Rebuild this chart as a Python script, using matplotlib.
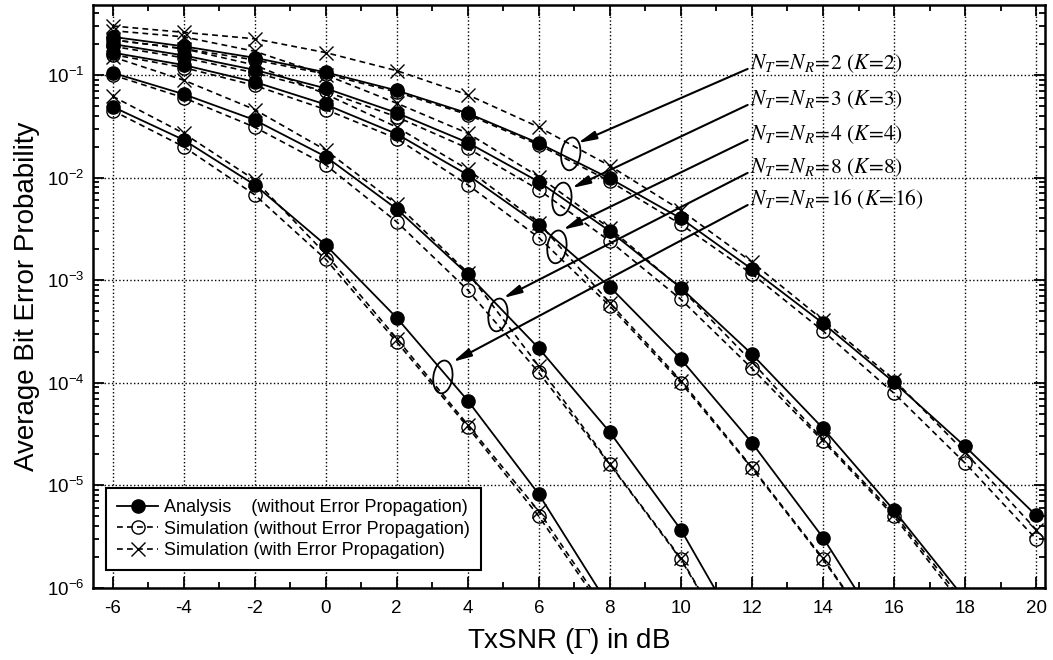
import numpy as np
import matplotlib
matplotlib.use('Agg')
from matplotlib import pyplot as plt
from matplotlib import transforms
from matplotlib.patches import Ellipse
from matplotlib.ticker import MultipleLocator, LogLocator, NullFormatter

plt.rcParams['font.family'] = ['Liberation Sans', 'DejaVu Sans']
plt.rcParams['mathtext.fontset'] = 'stix'
plt.rcParams['axes.unicode_minus'] = False

# TxSNR in dB
snr = [-6, -4, -2, 0, 2, 4, 6, 8, 10, 12, 14, 16, 18, 20]
ks = [2, 3, 4, 8, 16]

# analysis (without error propagation)
ana_k2 = [0.235, 0.19, 0.147, 0.106, 0.0706, 0.0423, 0.0216, 0.0098, 0.0040, 0.00128, 3.8e-4, 1.01e-4, 2.4e-5, 5.1e-6]
ana_k3 = [0.20, 0.155, 0.112, 0.074, 0.0427, 0.0219, 0.0091, 0.0030, 8.4e-4, 1.9e-4, 3.6e-5, 5.7e-6, 7.8e-7]
ana_k4 = [0.165, 0.125, 0.0855, 0.0515, 0.0266, 0.0106, 0.00345, 8.6e-4, 1.7e-4, 2.6e-5, 3.1e-6, 2.5e-7]
ana_k8 = [0.105, 0.065, 0.0364, 0.016, 0.00494, 0.00114, 2.17e-4, 3.3e-5, 3.7e-6, 2.3e-7]
ana_k16 = [0.049, 0.0233, 0.0085, 0.0022, 4.3e-4, 6.7e-5, 8.2e-6, 6.5e-7]

# simulation without error propagation
sim_k2 = [0.22, 0.18, 0.14, 0.102, 0.068, 0.041, 0.0208, 0.0092, 0.0035, 0.00115, 3.2e-4, 7.9e-5, 1.65e-5, 3.0e-6]
sim_k3 = [0.19, 0.147, 0.105, 0.069, 0.039, 0.0193, 0.0076, 0.0024, 6.5e-4, 1.38e-4, 2.7e-5, 5.0e-6, 6.3e-7]
sim_k4 = [0.158, 0.118, 0.079, 0.046, 0.024, 0.0085, 0.0026, 5.6e-4, 1.0e-4, 1.47e-5, 1.9e-6, 2e-7]
sim_k8 = [0.10, 0.06, 0.031, 0.0133, 0.0037, 8.0e-4, 1.26e-4, 1.6e-5, 1.9e-6, 1.3e-7]
sim_k16 = [0.045, 0.020, 0.0068, 0.0016, 2.5e-4, 3.7e-5, 5.0e-6, 4.9e-7]

# simulation with error propagation
ep_k2 = [0.30, 0.26, 0.225, 0.165, 0.11, 0.064, 0.031, 0.013, 0.0048, 0.0015, 4.1e-4, 1.07e-4, 2.1e-5, 3.7e-6]
ep_k3 = [0.27, 0.235, 0.17, 0.10, 0.053, 0.027, 0.0102, 0.0032, 8.3e-4, 1.6e-4, 2.8e-5, 5.3e-6, 7e-7]
ep_k4 = [0.22, 0.18, 0.125, 0.065, 0.031, 0.012, 0.0036, 6.0e-4, 1.05e-4, 1.5e-5, 1.95e-6, 2e-7]
ep_k8 = [0.15, 0.089, 0.046, 0.0185, 0.0055, 0.00118, 1.45e-4, 1.62e-5, 1.95e-6, 1.3e-7]
ep_k16 = [0.062, 0.027, 0.0095, 0.0018, 2.7e-4, 3.9e-5, 5.6e-6, 5.3e-7]

analysis = [ana_k2, ana_k3, ana_k4, ana_k8, ana_k16]
simulation = [sim_k2, sim_k3, sim_k4, sim_k8, sim_k16]
with_ep = [ep_k2, ep_k3, ep_k4, ep_k8, ep_k16]

# annotation geometry (data coordinates)
ellipse_xy = [(6.90, 0.0170), (6.65, 0.00618), (6.51, 0.00211), (4.85, 4.58e-4), (3.30, 1.14e-4)]
arrow_tip = [(7.10, 0.0217), (6.93, 0.0079), (6.68, 0.0031), (5.0, 6.7e-4), (3.58, 1.6e-4)]
label_y = [0.1144, 0.0510, 0.02325, 0.0111, 0.0054]
label_x = 11.95
arrow_x = 11.88

fig = plt.figure(figsize=(10.53, 6.6), dpi=100)
ax = fig.add_axes([0.0883, 0.1091, 0.9041, 0.8833])

dash = (3.5, 2.5)
for i, k in enumerate(ks):
    n = len(analysis[i])
    ax.plot(snr[:n], analysis[i], '-', color='k', lw=1.3, marker='o', ms=9.5,
            mfc='k', mec='k', label='Analysis    (without Error Propagation)' if i == 0 else None)
    n = len(simulation[i])
    ax.plot(snr[:n], simulation[i], '--', dashes=dash, color='k', lw=1.2, marker='o', ms=9.5,
            mfc='none', mec='k', mew=1.0,
            label='Simulation (without Error Propagation)' if i == 0 else None)
    n = len(with_ep[i])
    ax.plot(snr[:n], with_ep[i], '--', dashes=dash, color='k', lw=1.2, marker='x', ms=10,
            mec='k', mew=1.0,
            label='Simulation (with Error Propagation)' if i == 0 else None)

# ellipses and arrows pointing to each curve group
for i, k in enumerate(ks):
    ex, ey = ellipse_xy[i]
    tr = fig.dpi_scale_trans + transforms.ScaledTranslation(ex, ey, ax.transData)
    ax.add_patch(Ellipse((0, 0), 0.19, 0.33, angle=-8, transform=tr,
                         fill=False, ec='k', lw=1.3))
    ax.annotate('', xy=arrow_tip[i], xytext=(arrow_x, label_y[i]),
                arrowprops=dict(arrowstyle='-|>,head_length=1.1,head_width=0.25',
                                color='k', lw=1.5, shrinkA=0, shrinkB=0))
    ax.text(label_x, label_y[i],
            r'$N_T\!=\!N_R\!=\!%d\ (K\!=\!%d)$' % (k, k),
            fontsize=15.5, ha='left', va='baseline')

ax.set_yscale('log')
ax.set_xlim(-6.55, 20.25)
ax.set_ylim(1e-6, 0.48)

ax.xaxis.set_major_locator(MultipleLocator(2))
ax.xaxis.set_minor_locator(MultipleLocator(1))
ax.yaxis.set_major_locator(LogLocator(base=10, numticks=20))
ax.yaxis.set_minor_locator(LogLocator(base=10, subs=np.arange(2, 10), numticks=20))
ax.yaxis.set_minor_formatter(NullFormatter())

ax.tick_params(which='both', direction='in', top=True, right=True, width=1.3)
ax.tick_params(which='major', length=8, labelsize=13.5)
ax.tick_params(axis='x', which='major', pad=9)
ax.tick_params(axis='y', which='major', pad=6)
ax.tick_params(which='minor', length=4.5)
for sp in ax.spines.values():
    sp.set_linewidth(1.8)

ax.grid(True, which='major', ls=':', color='k', lw=1.0)

ax.set_xlabel(r'TxSNR ($\Gamma$) in dB', fontsize=20, labelpad=6)
ax.set_ylabel('Average Bit Error Probability', fontsize=20, labelpad=5)

leg = ax.legend(loc='lower left', bbox_to_anchor=(0.0137, 0.031), borderaxespad=0,
                fontsize=13, handlelength=2.3, handletextpad=0.3, labelspacing=0.25,
                borderpad=0.6, fancybox=False, framealpha=1, edgecolor='k')
leg.get_frame().set_linewidth(1.5)

fig.savefig('out.png', dpi=100)
